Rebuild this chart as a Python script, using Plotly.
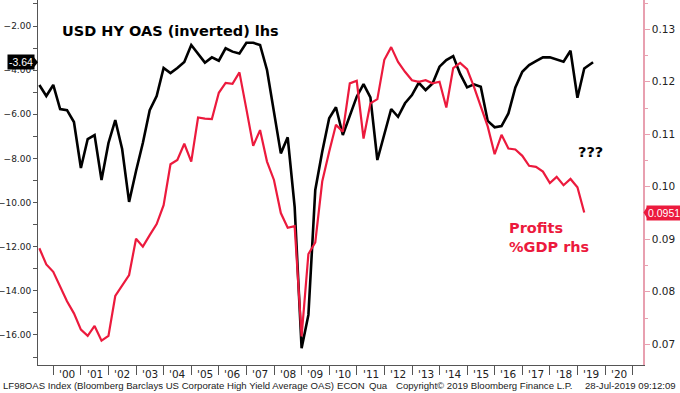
import pandas as pd
import plotly.graph_objects as go

# ---------------- data ----------------
quarter_ends = pd.date_range("1999-06-30", "2019-03-31", freq="QE")
last_oas_date = "2019-07-26"

hy_oas_inverted = [
    -4.67, -5.17, -4.67,
    -5.76, -5.81, -6.35, -8.43,
    -7.12, -6.94, -8.98, -7.30,
    -6.26, -7.57, -9.97, -8.57,
    -7.30, -5.81, -5.17, -3.90,
    -4.13, -3.90, -3.63, -2.86,
    -3.24, -3.66, -3.42, -3.57,
    -3.01, -3.16, -3.24, -2.76,
    -2.76, -2.86, -3.99, -5.81,
    -7.77, -7.04, -10.19, -16.60,
    -15.09, -9.43, -7.70, -6.18,
    -5.68, -6.94, -6.08, -5.20,
    -4.63, -5.23, -8.07, -6.85,
    -5.76, -6.11, -5.50, -5.13,
    -4.57, -4.90, -4.60, -3.84,
    -3.54, -3.36, -4.17, -4.78,
    -4.64, -4.75, -6.30, -6.59,
    -6.53, -5.96, -4.78, -4.07,
    -3.77, -3.59, -3.42, -3.42,
    -3.51, -3.62, -3.12, -5.25,
    -3.92,
    -3.64,
]

profits_pct_gdp = [
    0.0883, 0.0852, 0.0838,
    0.0810, 0.0782, 0.0759, 0.0728,
    0.0716, 0.0735, 0.0707, 0.0716,
    0.0792, 0.0813, 0.0832, 0.0901,
    0.0886, 0.0908, 0.0929, 0.0965,
    0.1043, 0.1051, 0.1082, 0.1048,
    0.1132, 0.1130, 0.1129, 0.1179,
    0.1198, 0.1196, 0.1218, 0.1148,
    0.1078, 0.1108, 0.1048, 0.1013,
    0.0950, 0.0922, 0.0925, 0.0715,
    0.0872, 0.0894, 0.1010, 0.1067,
    0.1118, 0.1105, 0.1197, 0.1202,
    0.1092, 0.1159, 0.1167, 0.1242,
    0.1266, 0.1238, 0.1219, 0.1203,
    0.1200, 0.1203, 0.1197, 0.1200,
    0.1151, 0.1226, 0.1236, 0.1224,
    0.1191, 0.1153, 0.1115, 0.1062,
    0.1099, 0.1073, 0.1071, 0.1059,
    0.1040, 0.1038, 0.1029, 0.1007,
    0.1019, 0.1003, 0.1015, 0.0999,
    0.0951,
]

years = list(range(2000, 2021))
year_labels = ["'%02d" % (y % 100) for y in years]

oas_dates = list(quarter_ends.strftime("%Y-%m-%d")) + [last_oas_date]
profit_dates = list(quarter_ends.strftime("%Y-%m-%d"))

# ---------------- style ----------------
RED = "#EC1A3D"
PINK = "#E8A0B0"
AX = "#555555"
TXT = "#222222"
FONT = "DejaVu Sans"
FOOT = "Liberation Sans"

fig = go.Figure()
fig.add_trace(go.Scatter(x=profit_dates, y=profits_pct_gdp, mode="lines",
                         line=dict(color=RED, width=2.2), yaxis="y2",
                         name="Profits %GDP"))
fig.add_trace(go.Scatter(x=oas_dates, y=hy_oas_inverted, mode="lines",
                         line=dict(color="black", width=2.6), yaxis="y",
                         name="USD HY OAS (inverted)"))

annotations = []
for y, lab in zip(years, year_labels):
    annotations.append(dict(x="%d-07-02" % y, xref="x", y=-0.024, yref="paper",
                            text=lab, showarrow=False, yanchor="middle",
                            font=dict(family=FONT, size=10.5, color=TXT)))

FOOT_Y = -0.057
annotations += [
    dict(x=0.036, y=0.915, xref="paper", yref="paper", xanchor="left", yanchor="middle",
         text="<b>USD HY OAS (inverted) lhs</b>", showarrow=False,
         font=dict(family=FONT, size=14.5, color="black")),
    dict(x=0.889, y=0.584, xref="paper", yref="paper", xanchor="left", yanchor="middle",
         text="<b>???</b>", showarrow=False,
         font=dict(family=FONT, size=14.5, color="black")),
    dict(x=0.776, y=0.35, xref="paper", yref="paper", xanchor="left", yanchor="middle",
         text="<b>Profits<br>%GDP rhs</b>", showarrow=False, align="left",
         font=dict(family=FONT, size=14.5, color=RED)),
    dict(x=0, xref="paper", y=hy_oas_inverted[-1], yref="y", xanchor="right",
         yanchor="middle", xshift=-3, text="%.2f" % hy_oas_inverted[-1], showarrow=False,
         bgcolor="black", borderpad=1, font=dict(family=FOOT, size=10.5, color="white")),
    dict(x=1, xref="paper", y=profits_pct_gdp[-1], yref="y2", xanchor="left",
         yanchor="middle", xshift=3, text="%.4f" % profits_pct_gdp[-1], showarrow=False,
         bgcolor=RED, borderpad=1, font=dict(family=FOOT, size=10.5, color="white")),
    dict(x=0, y=FOOT_Y, xref="paper", yref="paper", xanchor="left", yanchor="middle",
         xshift=-37,
         text="LF98OAS Index (Bloomberg Barclays US Corporate High Yield Average OAS)",
         showarrow=False, font=dict(family=FOOT, size=9.6, color=TXT)),
    dict(x=0, y=FOOT_Y, xref="paper", yref="paper", xanchor="left", yanchor="middle",
         xshift=297, text="ECON", showarrow=False,
         font=dict(family=FOOT, size=9.6, color=TXT)),
    dict(x=0, y=FOOT_Y, xref="paper", yref="paper", xanchor="left", yanchor="middle",
         xshift=329, text="Qua", showarrow=False,
         font=dict(family=FOOT, size=9.6, color=TXT)),
    dict(x=0, y=FOOT_Y, xref="paper", yref="paper", xanchor="left", yanchor="middle",
         xshift=356, text="Copyright\u00a9 2019 Bloomberg Finance L.P.", showarrow=False,
         font=dict(family=FOOT, size=9.6, color=TXT)),
    dict(x=1, y=FOOT_Y, xref="paper", yref="paper", xanchor="right", yanchor="middle",
         xshift=35, text="28-Jul-2019 09:12:09", showarrow=False,
         font=dict(family=FOOT, size=9.6, color=TXT)),
]

shapes = [
    dict(type="path", xref="paper", xsizemode="pixel", xanchor=0,
         yref="y", ysizemode="pixel", yanchor=hy_oas_inverted[-1],
         path="M -4,-5 L 0,0 L -4,5 Z", fillcolor="black", line=dict(width=0)),
    dict(type="path", xref="paper", xsizemode="pixel", xanchor=1,
         yref="y2", ysizemode="pixel", yanchor=profits_pct_gdp[-1],
         path="M 4,-5.5 L 0.5,0 L 4,5.5 Z", fillcolor=RED, line=dict(width=0)),
]

fig.update_layout(
    width=680, height=393,
    margin=dict(l=38, r=37, t=0, b=28, autoexpand=False),
    paper_bgcolor="white", plot_bgcolor="white",
    showlegend=False,
    annotations=annotations,
    shapes=shapes,
    xaxis=dict(
        type="date", range=["1999-06-12", "2021-05-17"], automargin=False,
        tickvals=["%d-01-01" % y for y in years + [2021]],
        showticklabels=False, ticks="outside", ticklen=9, tickcolor=AX,
        showline=True, linecolor=AX, linewidth=1, showgrid=False, zeroline=False,
    ),
    yaxis=dict(
        range=[-17.36, -0.82], dtick=2, tick0=0, tickformat=".2f", automargin=False,
        ticks="outside", ticklen=4, tickcolor=AX,
        minor=dict(dtick=1, ticks="outside", ticklen=4, tickcolor=AX),
        showline=True, linecolor=AX, linewidth=1, showgrid=False, zeroline=False,
        tickfont=dict(family=FONT, size=9.0, color=TXT),
    ),
    yaxis2=dict(
        overlaying="y", side="right", automargin=False,
        range=[0.06606, 0.13558], dtick=0.01, tick0=0, tickformat=".2f",
        ticks="outside", ticklen=5, tickcolor=PINK,
        minor=dict(dtick=0.005, ticks="outside", ticklen=3, tickcolor=PINK),
        showline=True, linecolor=PINK, linewidth=1.5, showgrid=False, zeroline=False,
        tickfont=dict(family=FONT, size=10.5, color=TXT),
    ),
)

fig.write_html("out.html", config={"displayModeBar": False})

# remove the browser's default page margin so the 680x393 figure fills the window
with open("out.html", "r", encoding="utf-8") as f:
    html = f.read()
html = html.replace("<head>", "<head><style>html,body{margin:0;padding:0;overflow:hidden;}</style>", 1)
with open("out.html", "w", encoding="utf-8") as f:
    f.write(html)
